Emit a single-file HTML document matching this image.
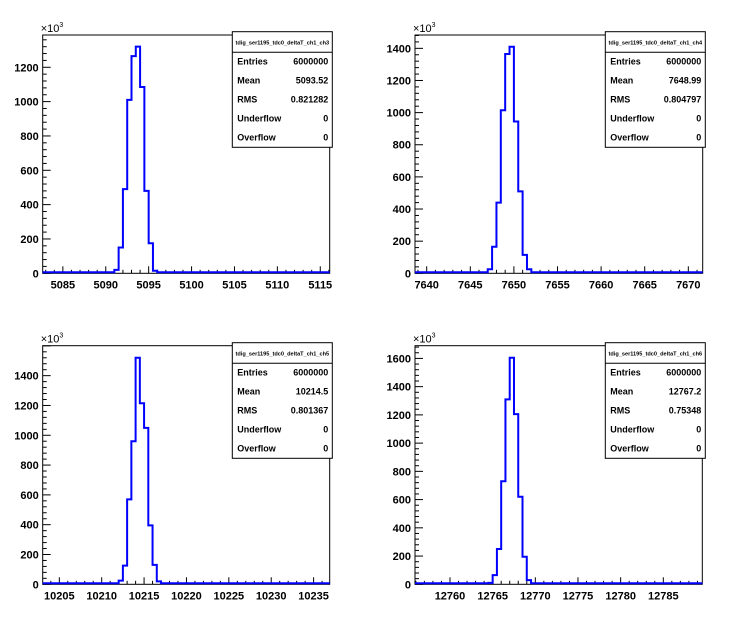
<!DOCTYPE html>
<html><head><meta charset="utf-8"><style>
body{margin:0;background:#fff}
svg{display:block;font-family:"Liberation Sans",Arial,sans-serif}
</style></head><body>
<svg id="c" width="746" height="622" viewBox="0 0 746 622"></svg>
<script>
const binsCh3=[20,150,490,1010,1265,1320,1085,480,175,15];
const binsCh4=[25,165,440,1015,1365,1410,945,510,115,25];
const binsCh5=[25,125,570,960,1520,1215,1050,395,130,20];
const binsCh6=[10,65,250,730,1310,1605,1205,620,195,30];
const binStarts=[5091.0,7647.0,10212.0,12764.5];
const binWidth=0.5;
const xTicksCh3=[5085,5090,5095,5100,5105,5110,5115];
const xTicksCh4=[7640,7645,7650,7655,7660,7665,7670];
const xTicksCh5=[10205,10210,10215,10220,10225,10230,10235];
const xTicksCh6=[12760,12765,12770,12775,12780,12785];
const yTicksCh3=[0,200,400,600,800,1000,1200];
const yTicksCh4=[0,200,400,600,800,1000,1200,1400];
const yTicksCh5=[0,200,400,600,800,1000,1200,1400];
const yTicksCh6=[0,200,400,600,800,1000,1200,1400,1600];
const titles=["tdig_ser1195_tdc0_deltaT_ch1_ch3","tdig_ser1195_tdc0_deltaT_ch1_ch4","tdig_ser1195_tdc0_deltaT_ch1_ch5","tdig_ser1195_tdc0_deltaT_ch1_ch6"];
const means=["5093.52","7648.99","10214.5","12767.2"];
const rmsVals=["0.821282","0.804797","0.801367","0.75348"];

const NS="http://www.w3.org/2000/svg";
const svg=document.getElementById('c');
function mk(tag,attrs,parent){const e=document.createElementNS(NS,tag);for(const k in attrs)e.setAttribute(k,attrs[k]);(parent||svg).appendChild(e);return e;}

const panels=[
 {L:42.7,R:329.7,T:35,B:273.3,x0:5082.65,x1:5116.1,ymax:1388,bins:binsCh3,xt:xTicksCh3,yt:yTicksCh3,bx:232.3,by:31.7},
 {L:415,R:702.7,T:35,B:273.3,x0:7638.66,x1:7671.65,ymax:1483,bins:binsCh4,xt:xTicksCh4,yt:yTicksCh4,bx:605.3,by:31.7},
 {L:42.7,R:329.7,T:345.7,B:584.3,x0:10203.04,x1:10236.9,ymax:1601,bins:binsCh5,xt:xTicksCh5,yt:yTicksCh5,bx:232.3,by:342.7},
 {L:415,R:702.3,T:345.7,B:584.3,x0:12755.9,x1:12789.57,ymax:1690,bins:binsCh6,xt:xTicksCh6,yt:yTicksCh6,bx:605.3,by:342.7}
];

panels.forEach((p,i)=>{
  const g=mk('g',{});
  
  
  const sx=v=>p.L+(v-p.x0)/(p.x1-p.x0)*(p.R-p.L);
  const sy=v=>p.B-v/p.ymax*(p.B-p.T);
  // frame
  const fr=mk('rect',{x:p.L,y:p.T,width:p.R-p.L,height:p.B-p.T,fill:'none',stroke:'#000','stroke-width':1},g);
  
  
  // x ticks: minor every 1
  const xa=mk('g',{},g);
  
  
  for(let v=Math.ceil(p.x0);v<=p.x1;v++){
    const major=(v%5===0);
    mk('line',{x1:sx(v),x2:sx(v),y1:p.B,y2:p.B-(major?7:3.5),stroke:'#000','stroke-width':1},xa);
  }
  p.xt.forEach(v=>{
    const t=mk('text',{x:sx(v),y:p.B+15,'font-size':11,'font-weight':'bold','text-anchor':'middle'},xa);
    t.textContent=v;
    
    
  });
  // y ticks: minor every 40
  const ya=mk('g',{},g);
  
  
  for(let v=0;v<=p.ymax;v+=40){
    const major=(v%200===0);
    mk('line',{x1:p.L,x2:p.L+(major?8:4),y1:sy(v),y2:sy(v),stroke:'#000','stroke-width':1},ya);
  }
  p.yt.forEach(v=>{
    const t=mk('text',{x:p.L-4,y:sy(v)+4,'font-size':11,'font-weight':'bold','text-anchor':'end'},ya);
    t.textContent=v;
    
    
  });
  const ex=mk('text',{x:p.L-2,y:p.T-3,'font-size':11},ya);
  ex.innerHTML='×10<tspan font-size="7" dy="-5">3</tspan>';
  
  
  // histogram
  const start=binStarts[i];
  let d='M'+p.L+','+(p.B-1)+' L'+sx(start)+','+(p.B-1);
  p.bins.forEach((v,k)=>{
    const xa0=sx(start+k*binWidth),xa1=sx(start+(k+1)*binWidth);
    const y=Math.min(sy(v),p.B-1);
    d+=' L'+xa0+','+y+' L'+xa1+','+y;
  });
  d+=' L'+sx(start+p.bins.length*binWidth)+','+(p.B-1)+' L'+p.R+','+(p.B-1);
  const h=mk('path',{d:d,fill:'none',stroke:'#0000ff','stroke-width':2},g);
  
  
  // stats box
  const sb=mk('g',{},g);
  
  
  const bw=100,bh=115.6;
  mk('rect',{x:p.bx,y:p.by,width:bw,height:bh,fill:'#fff',stroke:'#000','stroke-width':1},sb);
  mk('line',{x1:p.bx,x2:p.bx+bw,y1:p.by+20.6,y2:p.by+20.6,stroke:'#000','stroke-width':1},sb);
  const tt=mk('text',{x:p.bx+bw/2,y:p.by+13,'font-size':5.6,'font-weight':'bold','text-anchor':'middle'},sb);
  tt.textContent=titles[i];
  
  
  const rows=[['Entries','6000000'],['Mean',means[i]],['RMS',rmsVals[i]],['Underflow','0'],['Overflow','0']];
  rows.forEach((r,k)=>{
    const y=p.by+33+k*19;
    const a=mk('text',{x:p.bx+5,y:y,'font-size':9,'font-weight':'bold'},sb);
    a.textContent=r[0];
    
    
    const b=mk('text',{x:p.bx+bw-4,y:y,'font-size':9,'font-weight':'bold','text-anchor':'end'},sb);
    b.textContent=r[1];
    
    
  });
});
</script>
</body></html>
